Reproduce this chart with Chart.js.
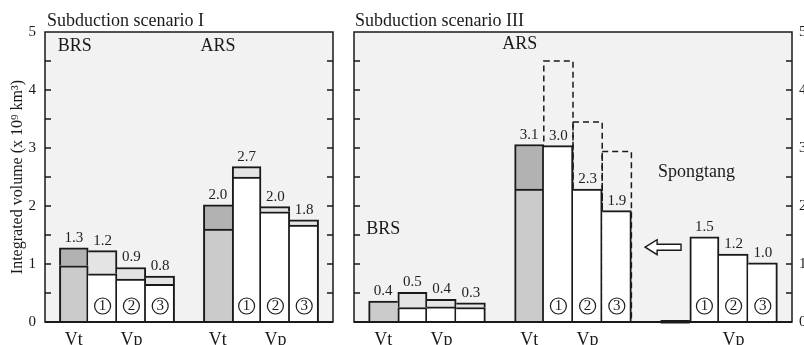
<!DOCTYPE html>
<html>
<head>
<meta charset="utf-8">
<script src="https://cdn.jsdelivr.net/npm/chart.js@4"></script>
<style>
  html, body { margin: 0; padding: 0; background: #fff; overflow: hidden; width: 804px; height: 345px; }
  #panelI { position: absolute; left: 0; top: 0; }
  #panelIII { position: absolute; left: 340px; top: 0; }
</style>
</head>
<body>
<canvas id="panelI" width="340" height="345"></canvas>
<canvas id="panelIII" width="480" height="345"></canvas>
<script>
// ---- Scenario I: integrated volumes (x 10^9 km^3), each group = Vt, Vp(1), Vp(2), Vp(3)
const groupsI = ['BRS', 'ARS'];
const totalsI = [[1.28, 1.23, 0.94, 0.79], [2.02, 2.68, 1.99, 1.76]];
const lowersI = [[0.97, 0.83, 0.74, 0.65], [1.60, 2.50, 1.90, 1.67]];
const potentialI = [[null, null, null, null], [null, null, null, null]];
const axisLabelsI = [['Vt', '', 'Vp', ''], ['Vt', '', 'Vp', '']];
const numberedI = [true, true];

// ---- Scenario III
const groupsIII = ['BRS', 'ARS', 'Spongtang'];
const totalsIII = [[0.36, 0.51, 0.39, 0.33], [3.06, 3.04, 2.29, 1.92], [0, 1.47, 1.17, 1.02]];
const lowersIII = [[0.36, 0.25, 0.26, 0.25], [2.29, 3.04, 2.29, 1.92], [0, 1.47, 1.17, 1.02]];
const potentialIII = [[null, null, null, null], [null, 4.50, 3.45, 2.94], [null, null, null, null]];
const axisLabelsIII = [['Vt', '', 'Vp', ''], ['Vt', '', 'Vp', ''], ['', '', 'Vp', '']];
const numberedIII = [false, true, true];

const barKinds = ['Vt', 'Vp', 'Vp', 'Vp'];
const circleMarks = ['', '1', '2', '3'];
const yMax = 5;
const yStep = 0.5;

const SERIF = "'Liberation Serif', 'Times New Roman', Times, serif";
const INK = '#1a1a1a';
const SHADES = { Vt: ['#cbcbcb', '#b2b2b2'], Vp: ['#ffffff', '#e4e4e4'] };

function buildPanel(canvasId, cfg) {
  // lay the bars out on slots: one empty slot before each group of four
  const bars = [];
  cfg.groups.forEach((name, g) => {
    cfg.totals[g].forEach((total, k) => {
      bars.push({
        slot: 1 + 5 * g + k, kind: barKinds[k], total,
        lower: cfg.lowers[g][k], potential: cfg.potential[g][k],
        axisLabel: cfg.axisLabels[g][k], mark: cfg.numbered[g] ? circleMarks[k] : ''
      });
    });
  });
  const bySlot = {};
  bars.forEach(b => { bySlot[b.slot] = b; });
  const xMax = 5 * cfg.groups.length;

  // shared edges are drawn once, by the taller neighbour
  function sides(b) {
    const prev = bySlot[b.slot - 1], next = bySlot[b.slot + 1];
    return {
      left: (!prev || prev.total < b.total) ? 2 : 0,
      right: (!next || next.total <= b.total) ? 2 : 0
    };
  }
  const segBorder = ctx => {
    const b = ctx.raw && bySlot[ctx.raw.x];
    if (!b) return 2;
    const s = sides(b);
    return { top: 2, bottom: 0, left: s.left, right: s.right };
  };
  const segColor = part => ctx => {
    const b = ctx.raw && bySlot[ctx.raw.x];
    return b ? SHADES[b.kind][part] : '#fff';
  };

  const datasets = [
    {
      label: 'lower', stack: 'v',
      data: bars.map(b => ({ x: b.slot, y: b.total > 0 ? b.lower : null })),
      backgroundColor: segColor(0), borderColor: INK, borderWidth: segBorder
    },
    {
      label: 'upper', stack: 'v',
      data: bars.map(b => ({ x: b.slot, y: (b.total - b.lower) > 1e-6 ? +(b.total - b.lower).toFixed(3) : null })),
      backgroundColor: segColor(1), borderColor: INK, borderWidth: segBorder
    }
  ];
  if (bars.some(b => b.potential !== null)) {
    datasets.push({
      label: 'potential', stack: 'p',
      data: bars.map(b => ({ x: b.slot, y: b.potential })),
      backgroundColor: 'rgba(0,0,0,0)', borderWidth: 0
    });
  }

  const decor = {
    id: 'decor',
    beforeDraw(chart) {
      const a = chart.chartArea, c = chart.ctx;
      c.save();
      c.fillStyle = '#f2f2f2';
      c.fillRect(a.left, a.top, a.right - a.left, a.bottom - a.top);
      c.restore();
    },
    beforeDatasetsDraw(chart) {
      // dashed outlines of the potential volumes, behind the solid bars
      const idx = chart.data.datasets.findIndex(d => d.label === 'potential');
      if (idx < 0) return;
      const c = chart.ctx;
      c.save();
      c.strokeStyle = INK; c.lineWidth = 1.5; c.setLineDash([6, 4]);
      chart.getDatasetMeta(idx).data.forEach(el => {
        if (el.skip || el.y === undefined || isNaN(el.y)) return;
        const w = el.width;
        c.strokeRect(el.x - w / 2, el.y, w, el.base - el.y);
      });
      c.restore();
    },
    afterDatasetsDraw(chart) {
      const a = chart.chartArea, c = chart.ctx;
      const xs = chart.scales.x, ys = chart.scales.y;
      const w = xs.getPixelForValue(1) - xs.getPixelForValue(0);
      c.save();
      bars.forEach(b => {
        const cx = xs.getPixelForValue(b.slot);
        const base = ys.getPixelForValue(0);
        if (b.total === 0) {
          // empty bar: heavy base line
          c.fillStyle = INK;
          c.fillRect(cx - w / 2, base - 2, w, 3.5);
          return;
        }
        // value above the bar
        c.fillStyle = '#222';
        c.font = '15px ' + SERIF;
        c.textAlign = 'center';
        c.textBaseline = 'alphabetic';
        c.fillText(b.total.toFixed(1), cx, ys.getPixelForValue(b.total) - 6);
        // circled scenario number at the foot of the bar
        if (b.mark) {
          const cy = base - 16;
          c.beginPath();
          c.arc(cx, cy, 8, 0, Math.PI * 2);
          c.lineWidth = 1.2; c.strokeStyle = INK; c.stroke();
          c.fillStyle = INK;
          c.font = '15px ' + SERIF;
          c.textBaseline = 'middle';
          c.fillText(b.mark, cx, cy + 0.5);
        }
      });
      // frame
      c.strokeStyle = INK;
      c.lineWidth = 1.5;
      c.strokeRect(a.left, a.top, a.right - a.left, a.bottom - a.top);
      c.lineWidth = 2.2;
      c.beginPath(); c.moveTo(a.left, a.bottom); c.lineTo(a.right, a.bottom); c.stroke();
      // inward ticks on both sides
      c.lineWidth = 1.5;
      ys.ticks.forEach(t => {
        const y = ys.getPixelForValue(t.value);
        if (t.value <= 0 || t.value >= yMax) return;
        c.beginPath();
        c.moveTo(a.left, y); c.lineTo(a.left + 6, y);
        c.moveTo(a.right - 6, y); c.lineTo(a.right, y);
        c.stroke();
      });
      // group names
      c.fillStyle = INK;
      c.font = '18px ' + SERIF;
      c.textAlign = 'center';
      c.textBaseline = 'alphabetic';
      cfg.notes.forEach(n => c.fillText(n.text, xs.getPixelForValue(n.x), ys.getPixelForValue(n.y)));
      // hollow arrow
      if (cfg.arrow) {
        const tip = xs.getPixelForValue(cfg.arrow.to), tail = xs.getPixelForValue(cfg.arrow.from);
        const yc = ys.getPixelForValue(cfg.arrow.y);
        const hl = 12, hh = 7.5, sh = 3;
        c.beginPath();
        c.moveTo(tip, yc);
        c.lineTo(tip + hl, yc - hh); c.lineTo(tip + hl, yc - sh);
        c.lineTo(tail, yc - sh); c.lineTo(tail, yc + sh);
        c.lineTo(tip + hl, yc + sh); c.lineTo(tip + hl, yc + hh);
        c.closePath();
        c.fillStyle = '#fff'; c.fill();
        c.lineWidth = 1.4; c.strokeStyle = INK; c.stroke();
      }
      c.restore();
    },
    afterDraw(chart) {
      const a = chart.chartArea, c = chart.ctx;
      c.save();
      c.fillStyle = INK;
      c.font = '18px ' + SERIF;
      c.textAlign = 'left';
      c.textBaseline = 'alphabetic';
      c.fillText(cfg.title, a.left + cfg.titleInset, a.top - 6);
      c.restore();
    }
  };

  const yAxis = {
    type: 'linear', position: cfg.yPosition, stacked: true,
    min: 0, max: yMax,
    grid: { display: false, drawTicks: false },
    border: { display: false },
    ticks: {
      stepSize: yStep, padding: cfg.yPosition === 'left' ? 9 : 7,
      color: INK, font: { family: SERIF, size: 15 },
      callback: v => (Number.isInteger(v) ? String(v) : '')
    },
    afterFit: s => { s.width = cfg.yWidth; }
  };
  if (cfg.yTitle) {
    yAxis.title = {
      display: true, text: cfg.yTitle, color: INK,
      font: { family: SERIF, size: 16 }, padding: { top: 8, bottom: 0 }
    };
  }

  return new Chart(document.getElementById(canvasId), {
    type: 'bar',
    data: { datasets },
    options: {
      responsive: false,
      animation: false,
      layout: { padding: cfg.padding },
      datasets: { bar: { grouped: false, borderSkipped: false, categoryPercentage: 1, barPercentage: 1 } },
      plugins: { legend: { display: false }, tooltip: { enabled: false } },
      scales: {
        x: {
          type: 'linear', min: 0, max: xMax, offset: false,
          grid: { display: false, drawTicks: false },
          border: { display: false },
          ticks: {
            stepSize: 1, autoSkip: false, maxRotation: 0, padding: 7,
            color: INK, font: { family: SERIF, size: 18 },
            callback: v => (bySlot[v] ? bySlot[v].axisLabel : '')
          },
          afterFit: s => { s.height = 23; }
        },
        y: yAxis
      }
    },
    plugins: [decor]
  });
}

buildPanel('panelI', {
  groups: groupsI, totals: totalsI, lowers: lowersI, potential: potentialI,
  axisLabels: axisLabelsI, numbered: numberedI,
  title: 'Subduction scenario I', titleInset: 2,
  yPosition: 'left', yWidth: 45, yTitle: 'Integrated volume (x 10\u2079 km\u00B3)',
  padding: { top: 32, right: 3, left: 0, bottom: 0 },
  notes: [{ text: 'BRS', x: 1.03, y: 4.67 }, { text: 'ARS', x: 6.01, y: 4.67 }]
});

buildPanel('panelIII', {
  groups: groupsIII, totals: totalsIII, lowers: lowersIII, potential: potentialIII,
  axisLabels: axisLabelsIII, numbered: numberedIII,
  title: 'Subduction scenario III', titleInset: 1,
  yPosition: 'right', yWidth: 28, yTitle: null,
  padding: { top: 32, right: 0, left: 14, bottom: 0 },
  notes: [{ text: 'BRS', x: 1.0, y: 1.51 }, { text: 'ARS', x: 5.68, y: 4.70 }, { text: 'Spongtang', x: 11.73, y: 2.50 }],
  arrow: { from: 11.2, to: 9.97, y: 1.29 }
});
</script>
</body>
</html>
